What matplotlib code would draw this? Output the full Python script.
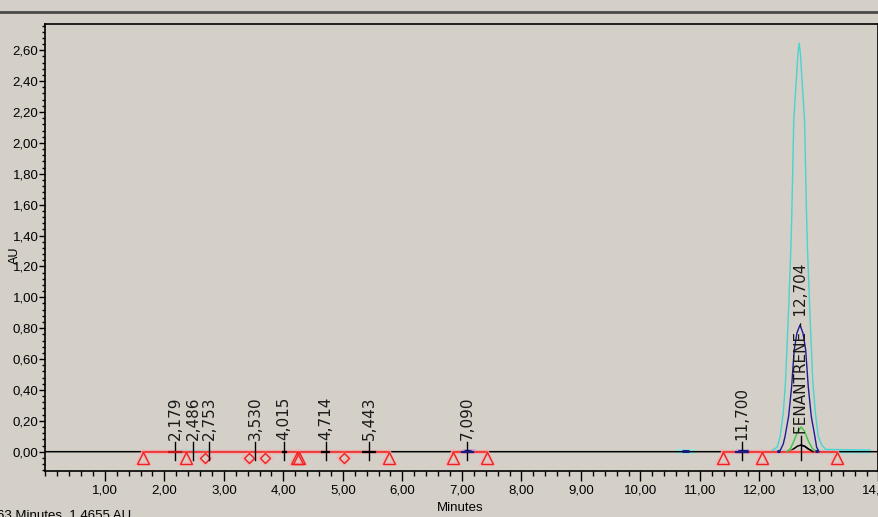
import matplotlib
matplotlib.use("Agg")
import matplotlib.pyplot as plt
from matplotlib.ticker import MultipleLocator, FuncFormatter
from matplotlib.lines import Line2D

plt.rcParams['font.family'] = ['Liberation Sans Narrow', 'Liberation Sans', 'DejaVu Sans']

BG = '#d4d0c8'

# detector traces around the main peak (minutes, AU)
cyan_t = [12.22, 12.30, 12.347, 12.40, 12.437, 12.487, 12.527, 12.541, 12.577, 12.647,
          12.667, 12.687, 12.757, 12.793, 12.807, 12.847, 12.897, 12.94, 12.987, 13.05, 13.12, 13.86]
cyan_v = [0.01, 0.03, 0.10, 0.25, 0.45, 0.90, 1.31, 1.50, 2.15, 2.58,
          2.645, 2.58, 2.15, 1.50, 1.31, 0.90, 0.45, 0.25, 0.10, 0.04, 0.015, 0.01]

navy_t = [12.31, 12.35, 12.40, 12.43, 12.49, 12.54, 12.584, 12.63, 12.68, 12.73, 12.776,
          12.82, 12.87, 12.93, 12.96, 13.00]
navy_v = [0.0, 0.01, 0.05, 0.10, 0.23, 0.42, 0.66, 0.77, 0.82, 0.77, 0.66,
          0.42, 0.23, 0.10, 0.03, 0.0]

green_t = [12.46, 12.52, 12.58, 12.64, 12.70, 12.76, 12.82, 12.89, 12.96]
green_v = [0.0, 0.02, 0.07, 0.13, 0.16, 0.13, 0.07, 0.02, 0.0]

black_t = [0.0, 12.45, 12.52, 12.58, 12.64, 12.70, 12.76, 12.82, 12.90, 14.0]
black_v = [0.0, 0.0, 0.005, 0.02, 0.036, 0.043, 0.035, 0.018, 0.0, 0.0]

# integrated peaks
peak_rt = [2.179, 2.486, 2.753, 3.530, 4.015, 4.714, 5.443, 7.090, 11.700, 12.704]
peak_names = ['', '', '', '', '', '', '', '', '', 'FENANTRENE']
cross_half = [0.10, 0.0, 0.0, 0.0, 0.025, 0.06, 0.10, 0.09, 0.10, 0.0]

# baseline events
baseline_runs = [(1.64, 5.77), (6.85, 7.42), (11.38, 13.31)]
tri_t = [1.64, 2.37, 4.227, 4.27, 5.77, 6.85, 7.42, 11.38, 12.04, 13.31]
dia_t = [2.676, 3.415, 3.695, 5.027]

cyan_bands = [(2.27, 2.74), (10.58, 10.92), (12.23, 12.40), (12.95, 13.86)]
lilac_bands = [(7.00, 7.22), (11.61, 11.82)]
navy_dashes = [(7.04, 7.16), (11.64, 11.80), (10.69, 10.82), (12.29, 12.34), (12.94, 12.99)]

fig = plt.figure(figsize=(8.79, 5.17), dpi=100, facecolor=BG)
ax = fig.add_axes([45.3 / 879, 1 - 471 / 517, (878.5 - 45.3) / 879, (471 - 24) / 517])
ax.set_facecolor(BG)

# window border line above the plot
fig.add_artist(Line2D([0, 1], [1 - 11.5 / 517] * 2, transform=fig.transFigure,
                      color='#4a4a4a', lw=2.0))

for a, b in cyan_bands:
    ax.plot([a, b], [0.006, 0.006], color='#9fe3e0', lw=3.5, solid_capstyle='butt', zorder=2)
for a, b in lilac_bands:
    ax.plot([a, b], [0.004, 0.004], color='#b4a8e8', lw=3.5, solid_capstyle='butt', zorder=2)

ax.plot(black_t, black_v, color='black', lw=1.1, zorder=3)

# red baseline with soft halo
for a, b in baseline_runs:
    ax.plot([a, b], [0, 0], color='#f2a6a6', lw=3.2, alpha=0.7, zorder=4)
    ax.plot([a, b], [0, 0], color='#ff2a2a', lw=1.1, zorder=5)

ax.plot(cyan_t, cyan_v, color='#48d4d0', lw=1.0, zorder=6)
ax.plot(navy_t, navy_v, color='#1c1c96', lw=1.0, zorder=7)
ax.plot(green_t, green_v, color='#3cc83c', lw=1.0, zorder=7)
ax.plot(black_t[5:9], black_v[5:9], color='black', lw=1.0, zorder=8)

for a, b in navy_dashes:
    ax.plot([a, b], [0.002, 0.002], color='#1c1c80', lw=2.2, solid_capstyle='butt', zorder=8)

# open triangles and diamonds under the baseline
ax.plot(tri_t, [-0.043] * len(tri_t), ls='none', marker='^', ms=8.5, mfc='none',
        mec='#f4b0b0', mew=2.6, alpha=0.7, zorder=4)
ax.plot(tri_t, [-0.043] * len(tri_t), ls='none', marker='^', ms=8, mfc='none',
        mec='#ee2020', mew=1.0, zorder=5)
ax.plot(dia_t, [-0.040] * len(dia_t), ls='none', marker='D', ms=6, mfc='none',
        mec='#f4b0b0', mew=2.6, alpha=0.7, zorder=4)
ax.plot(dia_t, [-0.040] * len(dia_t), ls='none', marker='D', ms=5.6, mfc='none',
        mec='#ee2020', mew=1.0, zorder=5)

for rt, name, hw in zip(peak_rt, peak_names, cross_half):
    top = 0.10 if name else 0.065
    ax.plot([rt, rt], [-0.055, top], color='black', lw=1.0, zorder=9)
    if hw:
        col = '#c01818' if rt < 2.3 else ('#1c1c80' if rt > 7 else 'black')
        ax.plot([rt - hw, rt + hw], [0, 0], color=col, lw=1.6, zorder=9)
    label = f"{name} - {rt:.3f}" if name else f"{rt:.3f}"
    ax.text(rt, top + 0.012, label.replace('.', ','), rotation=90, ha='center', va='bottom',
            fontsize=11, family=['DejaVu Sans'], color='#1a1a1a', zorder=10)

ax.set_xlim(0, 14.0)
ax.set_ylim(-0.125, 2.77)
ax.set_xticks(range(1, 15))
ax.set_yticks([i * 0.2 for i in range(14)])
ax.xaxis.set_minor_locator(MultipleLocator(0.2))
ax.yaxis.set_minor_locator(MultipleLocator(0.04))
fmt = FuncFormatter(lambda v, p: f"{v:.2f}".replace('.', ','))
ax.xaxis.set_major_formatter(fmt)
ax.yaxis.set_major_formatter(fmt)
ax.tick_params(axis='x', which='major', length=7, width=1, pad=3, labelsize=9.5)
ax.tick_params(axis='x', which='minor', length=3.5, width=1)
ax.tick_params(axis='y', which='major', length=4, width=1, pad=1, labelsize=9.5)
ax.tick_params(axis='y', which='minor', length=2, width=1)
for s in ax.spines.values():
    s.set_linewidth(1.2)

fig.text(460 / 879, 1 - 508 / 517, 'Minutes', ha='center', va='center', fontsize=9.5)
fig.text(15 / 879, 1 - 255 / 517, 'AU', rotation=90, ha='center', va='center', fontsize=9)
fig.text(-3 / 879, 1 - 510 / 517, '63 Minutes, 1,4655 AU', ha='left', va='top', fontsize=9.5)

fig.savefig('out.png', dpi=100, facecolor=BG)
